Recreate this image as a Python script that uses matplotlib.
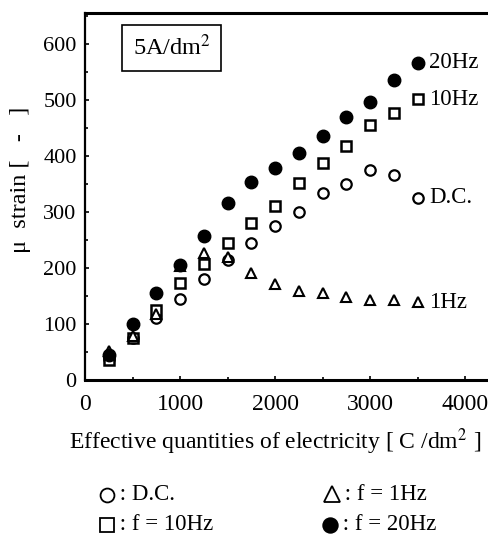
import matplotlib
matplotlib.use("Agg")
import matplotlib.pyplot as plt
from matplotlib.ticker import MultipleLocator
from matplotlib.lines import Line2D

plt.rcParams['font.family'] = ['Liberation Serif', 'DejaVu Serif']
plt.rcParams['mathtext.fontset'] = 'stix'

x = [250, 500, 750, 1000, 1250, 1500, 1750, 2000, 2250, 2500, 2750, 3000, 3250, 3500]
dc = [38, 75, 110, 145, 180, 215, 245, 274, 300, 334, 350, 374, 366, 325]
f1 = [52, 78, 118, 203, 227, 220, 191, 171, 159, 155, 148, 142, 142, 139]
f10 = [35, 75, 125, 173, 207, 245, 280, 311, 352, 388, 418, 455, 477, 501]
f20 = [45, 100, 155, 205, 257, 316, 354, 379, 405, 436, 470, 497, 536, 566]

xticks = [0, 1000, 2000, 3000, 4000]
yticks = [0, 100, 200, 300, 400, 500, 600]

fig = plt.figure(figsize=(4.89, 5.35), dpi=100)
ax = fig.add_axes([85/489, 1-380/535, 403/489, 367/535])

ms = 7.5
ax.plot(x, dc, linestyle='none', marker='o', mfc='white', mec='black', mew=1.6, ms=ms, zorder=3)
ax.plot(x, f10, linestyle='none', marker='s', mfc='white', mec='black', mew=1.8, ms=7, zorder=4)
ax.plot(x, f1, linestyle='none', marker='^', mfc='white', mec='black', mew=1.5, ms=ms, zorder=5)
ax.plot(x, f20, linestyle='none', marker='o', mfc='black', mec='black', ms=9, zorder=6)

ax.set_xlim(0, 4240)
ax.set_ylim(0, 655)
ax.set_xticks(xticks)
ax.set_yticks(yticks)
ax.xaxis.set_minor_locator(MultipleLocator(500))
ax.yaxis.set_minor_locator(MultipleLocator(50))
ax.tick_params(which='both', direction='in', length=3, width=1.2, pad=6)
ax.tick_params(which='minor', length=2)
ax.tick_params(axis='y', labelsize=16)
ax.tick_params(axis='x', labelsize=17, pad=10)

ax.spines['top'].set_linewidth(2.2)
ax.spines['bottom'].set_linewidth(2.2)
ax.spines['left'].set_linewidth(1.6)
ax.spines['right'].set_linewidth(0.6)
ax.spines['right'].set_color('#888888')

ax.set_xlabel('Effective quantities of electricity [ C /dm$^2$ ]', fontsize=17)
ax.xaxis.set_label_coords((275 - 85) / 403, (380 - 426) / 367)
ax.set_ylabel('μ  strain [   -   ]', fontsize=17.5)
ax.yaxis.set_label_coords((31 - 85) / 403, (380 - 180) / 367)

ax.text(0.215, 0.905, '5A/dm$^2$', transform=ax.transAxes, fontsize=17.5,
        ha='center', va='center',
        bbox=dict(boxstyle='square,pad=0.42', fc='white', ec='black', lw=1.2))

for val, lab in [(f20[-1], '20Hz'), (f10[-1], '10Hz'), (dc[-1], 'D.C.'), (f1[-1], '1Hz')]:
    ax.text(3620, val, lab, fontsize=16.5, va='center', ha='left')

# legend below the axes
leg = [
    (107, 495, 'o', 'white', 10, ' : D.C.'),
    (107, 525, 's', 'white', 10.5, ' : f = 10Hz'),
    (332, 494, '^', 'white', 12, ' : f = 1Hz'),
    (330, 525, 'o', 'black', 10.5, ' : f = 20Hz'),
]
for px, py, mk, fc, size, lab in leg:
    fig.add_artist(Line2D([px / 489], [1 - py / 535], transform=fig.transFigure,
                          marker=mk, ms=size, mfc=fc, mec='black', mew=1.3, linestyle='none'))
    fig.text((px + 7) / 489, 1 - py / 535, lab, fontsize=16.5, va='center', ha='left')

fig.savefig('out.png', dpi=100)
